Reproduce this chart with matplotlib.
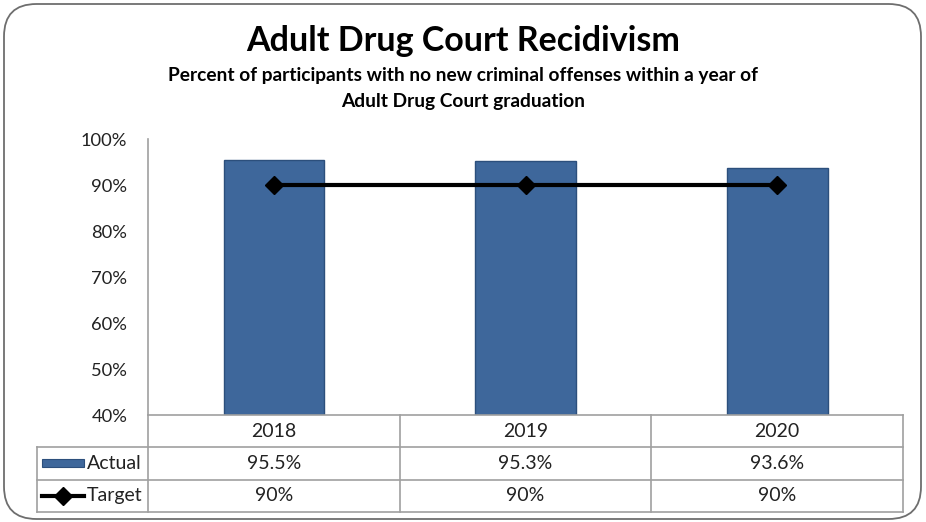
import matplotlib
matplotlib.use("Agg")
import matplotlib.pyplot as plt
from matplotlib.patches import FancyBboxPatch, Rectangle
from matplotlib.lines import Line2D

years = ["2018", "2019", "2020"]
actual = [95.5, 95.3, 93.6]
target = [90, 90, 90]
actual_labels = ["95.5%", "95.3%", "93.6%"]
target_labels = ["90%", "90%", "90%"]
yticks = [40, 50, 60, 70, 80, 90, 100]

W, H = 926, 522
fig = plt.figure(figsize=(W / 100, H / 100), dpi=100)
plt.rcParams['font.family'] = ['Lato', 'DejaVu Sans']

# rounded border
fig.patches.append(FancyBboxPatch((4 / W, 3 / H), 917 / W, 515 / H,
                                  boxstyle="round,pad=0,rounding_size=0.035",
                                  transform=fig.transFigure, fill=False,
                                  edgecolor="#6e6e6e", linewidth=1.3,
                                  mutation_aspect=W / H))

ax_l, ax_r, ax_t, ax_b = 148, 903, 139, 415
ax = fig.add_axes([ax_l / W, (H - ax_b) / H, (ax_r - ax_l) / W, (ax_b - ax_t) / H])

x = list(range(len(years)))
ax.bar(x, [a - 40 for a in actual], bottom=40, width=0.4, color="#3E679B",
       edgecolor="#2c4f7c", linewidth=1.0, zorder=2)
ax.plot(x, target, color="black", linewidth=3, marker="D", markersize=9,
        zorder=3)

ax.set_xlim(-0.5, len(years) - 0.5)
ax.set_ylim(40, 100)
ax.set_yticks(yticks)
ax.set_yticklabels([f"{t}%" for t in yticks], fontsize=13.2, color="#222222")
ax.tick_params(axis="y", length=0, pad=15)
ax.set_xticks([])
for s in ["top", "right", "bottom"]:
    ax.spines[s].set_visible(False)
ax.spines["left"].set_color("#a0a0a0")
ax.spines["left"].set_linewidth(1.2)

# data table
row_h = 32.3
lab_l = 37
gc = "#a0a0a0"
fs_tab = 14

def fx(px):
    return px / W

def fy(py):
    return (H - py) / H

col_w = (ax_r - ax_l) / len(years)
for i in range(4):
    yy = ax_b + i * row_h
    x0 = ax_l if i == 0 else lab_l
    fig.add_artist(Line2D([fx(x0), fx(ax_r)], [fy(yy), fy(yy)], color=gc, lw=1.2))
for j in range(len(years) + 1):
    xx = ax_l + j * col_w
    fig.add_artist(Line2D([fx(xx), fx(xx)], [fy(ax_b), fy(ax_b + 3 * row_h)], color=gc, lw=1.2))
fig.add_artist(Line2D([fx(lab_l), fx(lab_l)], [fy(ax_b + row_h), fy(ax_b + 3 * row_h)], color=gc, lw=1.2))

rows = [years, actual_labels, target_labels]
for r, vals in enumerate(rows):
    yc = ax_b + (r + 0.5) * row_h
    for j, v in enumerate(vals):
        xc = ax_l + (j + 0.5) * col_w
        fig.text(fx(xc), fy(yc), v, ha="center", va="center", fontsize=fs_tab, color="#222222")

# row labels with legend keys
yc = ax_b + 1.5 * row_h
fig.patches.append(Rectangle((fx(42), fy(yc + 4)), 42 / W, 8 / H, transform=fig.transFigure,
                             facecolor="#3E679B", edgecolor="#2c4f7c", lw=0.8))
fig.text(fx(87), fy(yc), "Actual", ha="left", va="center", fontsize=fs_tab, color="#222222")
yc = ax_b + 2.5 * row_h
fig.add_artist(Line2D([fx(42), fx(84)], [fy(yc), fy(yc)], color="black", lw=3))
fig.add_artist(Line2D([fx(63)], [fy(yc)], color="black", marker="D", markersize=9, lw=0))
fig.text(fx(87), fy(yc), "Target", ha="left", va="center", fontsize=fs_tab, color="#222222")

# titles
fig.text(0.5, fy(41), "Adult Drug Court Recidivism", ha="center", va="center",
         fontsize=24.5, fontweight="bold", color="black")
fig.text(0.5, fy(76), "Percent of participants with no new criminal offenses within a year of",
         ha="center", va="center", fontsize=13.8, fontweight="bold", color="black")
fig.text(0.5, fy(101), "Adult Drug Court graduation",
         ha="center", va="center", fontsize=13.8, fontweight="bold", color="black")

fig.savefig("out.png", dpi=100)
